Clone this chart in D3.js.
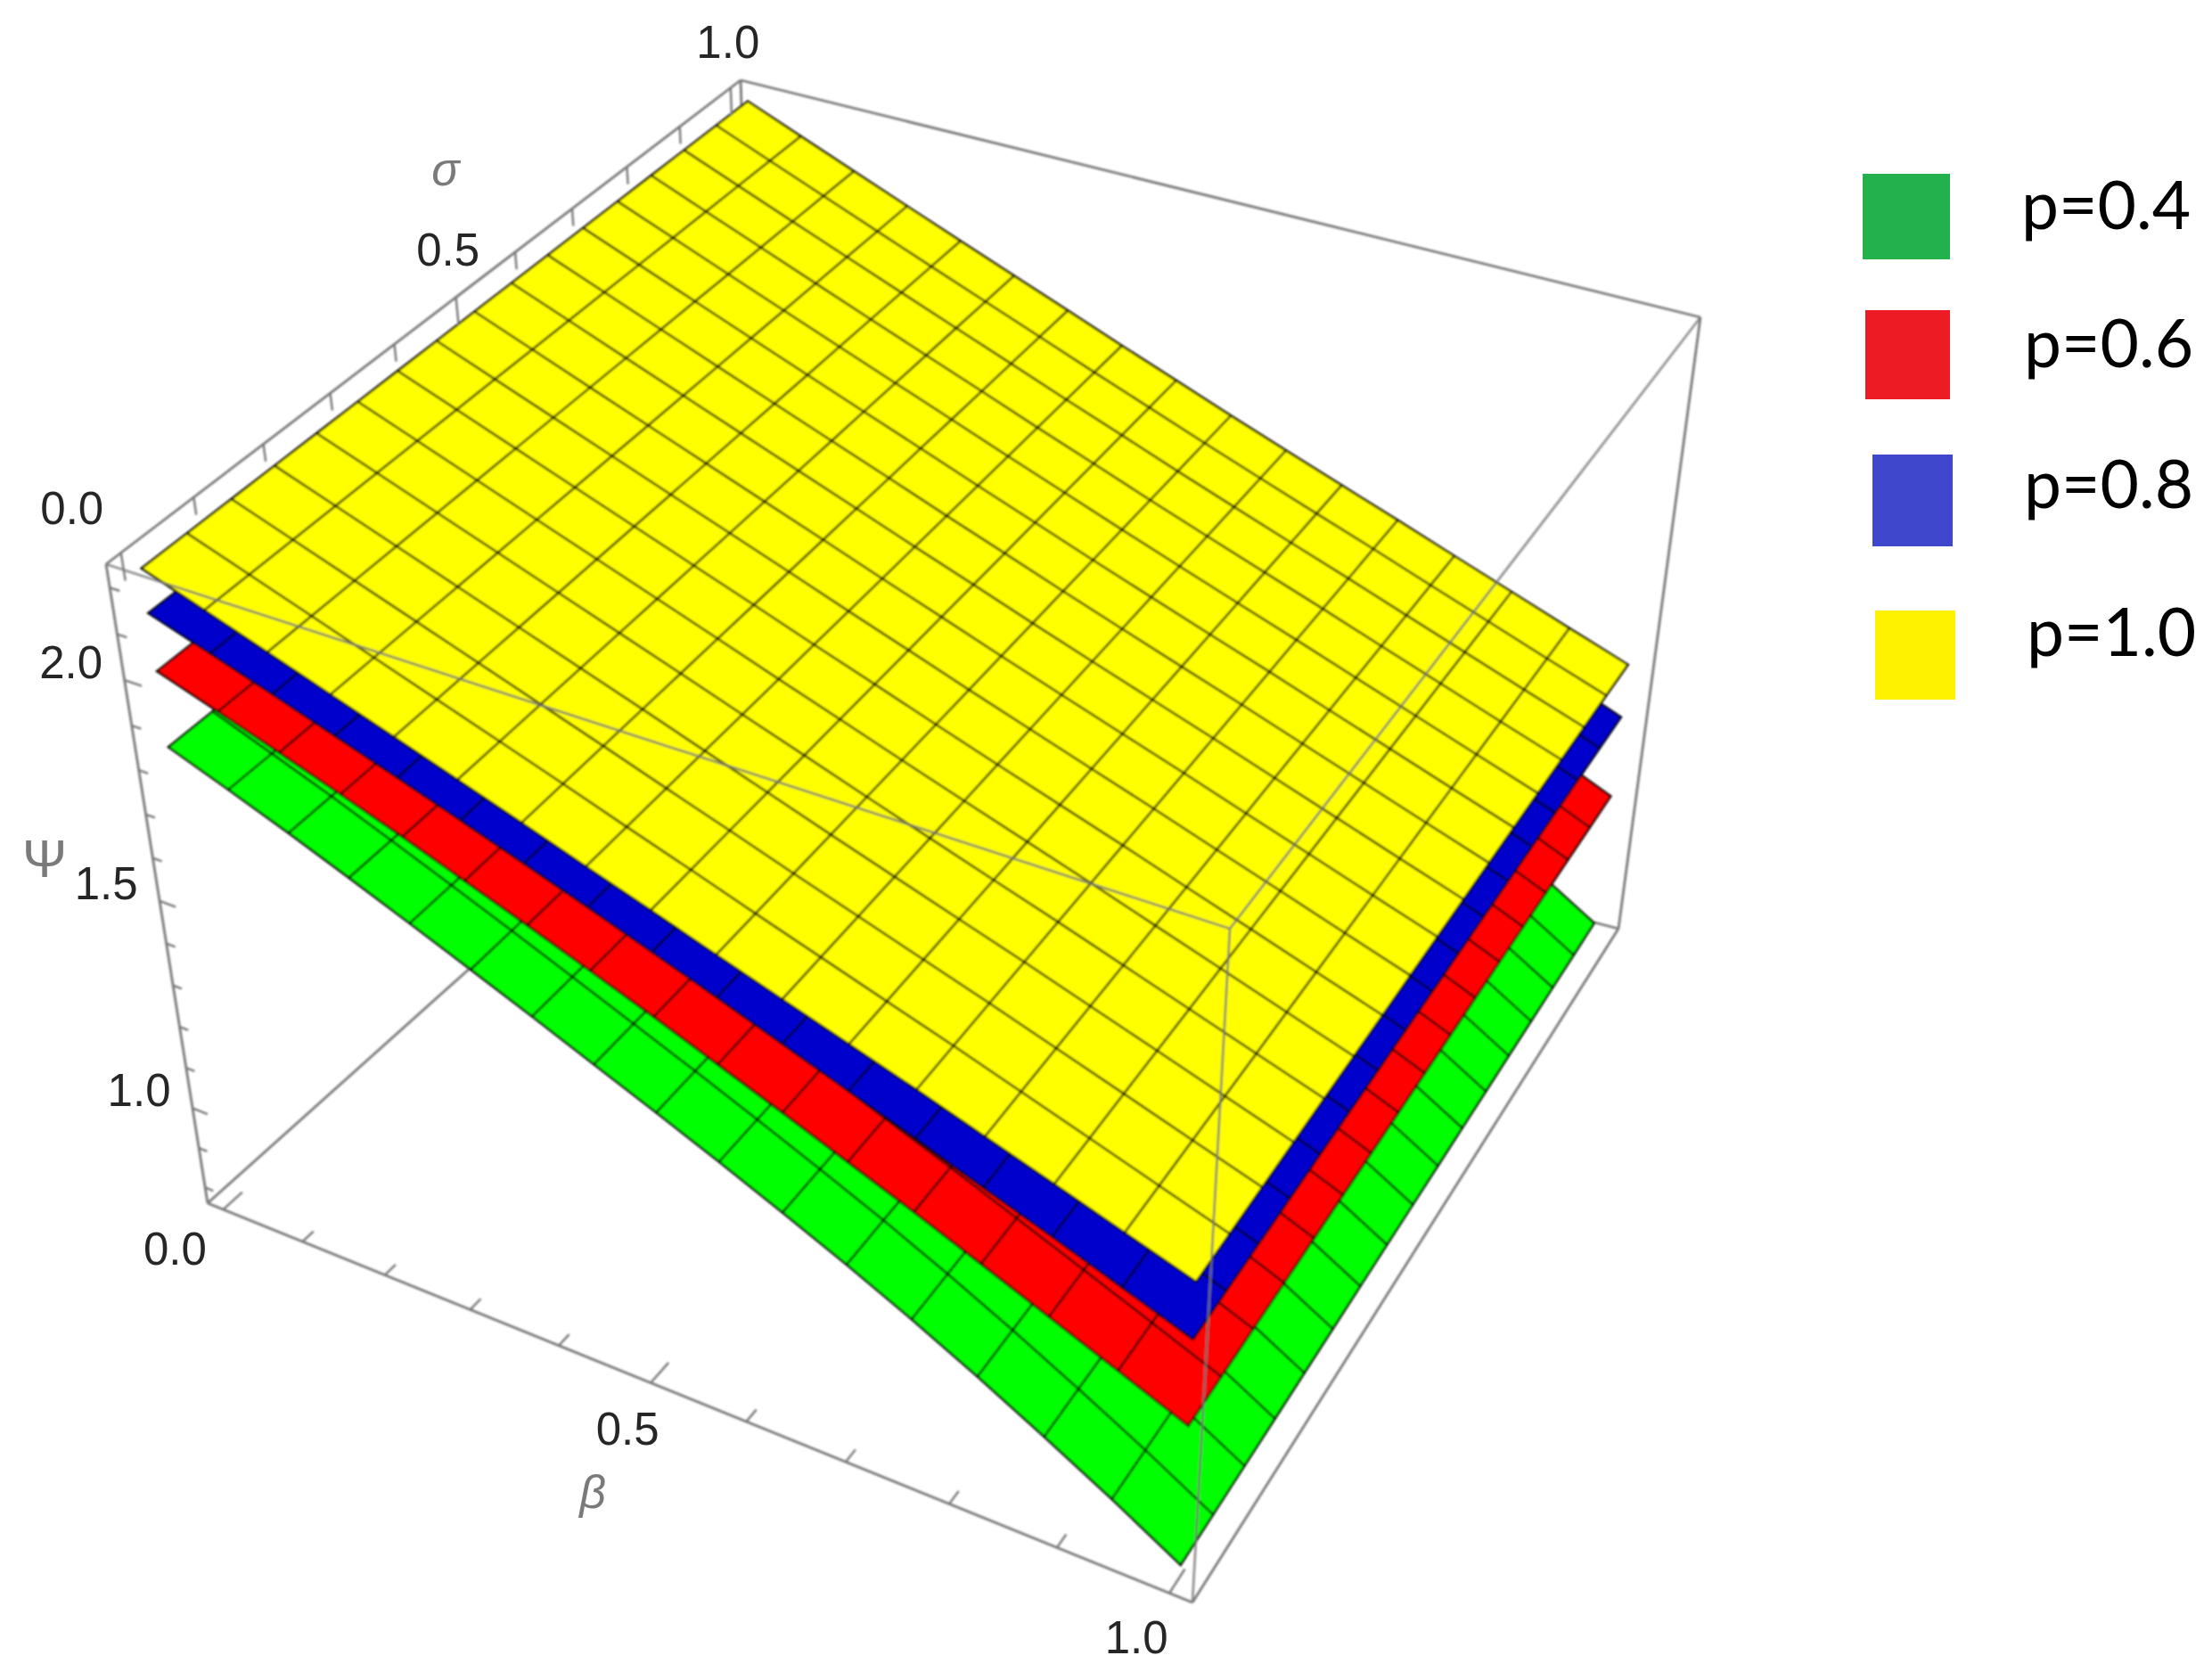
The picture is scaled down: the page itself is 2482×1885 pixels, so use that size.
<!DOCTYPE html>
<html>
<head>
<meta charset="utf-8">
<script src="https://cdnjs.cloudflare.com/ajax/libs/d3/7.8.5/d3.min.js"></script>
<style>
body { margin: 0; background: #fff; }
</style>
</head>
<body>
<script>
var w = 2482;
var h = 1885;

// mesh lines run every 1/16 in both beta and sigma
var betaMesh = [0, 0.0625, 0.125, 0.1875, 0.25, 0.3125, 0.375, 0.4375, 0.5, 0.5625, 0.625, 0.6875, 0.75, 0.8125, 0.875, 0.9375, 1];
var sigmaMesh = [0, 0.0625, 0.125, 0.1875, 0.25, 0.3125, 0.375, 0.4375, 0.5, 0.5625, 0.625, 0.6875, 0.75, 0.8125, 0.875, 0.9375, 1];

// psi at each beta mesh line, the sheets show no change along sigma
var psiGreen = [1.840, 1.788, 1.735, 1.679, 1.622, 1.564, 1.505, 1.445, 1.385, 1.323, 1.259, 1.193, 1.122, 1.046, 0.965, 0.880, 0.788];
var psiRed = [2.008, 1.962, 1.915, 1.867, 1.818, 1.766, 1.714, 1.660, 1.606, 1.549, 1.492, 1.433, 1.374, 1.312, 1.249, 1.185, 1.120];
var psiBlue = [2.134, 2.089, 2.043, 1.996, 1.949, 1.901, 1.852, 1.803, 1.752, 1.701, 1.648, 1.595, 1.542, 1.487, 1.433, 1.377, 1.320];
var psiYellow = [2.230, 2.182, 2.134, 2.086, 2.038, 1.990, 1.942, 1.893, 1.845, 1.796, 1.748, 1.700, 1.652, 1.602, 1.552, 1.501, 1.450];

var surfaces = [
    { name: "p=0.4", psi: psiGreen, fill: "#00ff00" },
    { name: "p=0.6", psi: psiRed, fill: "#ff0000" },
    { name: "p=0.8", psi: psiBlue, fill: "#0000cd" },
    { name: "p=1.0", psi: psiYellow, fill: "#ffff00" }
];

var legendNames = ["p=0.4", "p=0.6", "p=0.8", "p=1.0"];
var legendColors = ["#22b14c", "#ed1c24", "#3f48cc", "#fff200"];

var betaTicks = [0, 0.1, 0.2, 0.3, 0.4, 0.5, 0.6, 0.7, 0.8, 0.9, 1];
var sigmaTicks = [0, 0.1, 0.2, 0.3, 0.4, 0.5, 0.6, 0.7, 0.8, 0.9, 1];
var psiTicks = [0.8, 0.9, 1, 1.1, 1.2, 1.3, 1.4, 1.5, 1.6, 1.7, 1.8, 1.9, 2, 2.1, 2.2];
var betaLabels = [0, 0.5, 1];
var sigmaLabels = [0, 0.5, 1];
var psiLabels = [1, 1.5, 2];

var fmt = d3.format(".1f");

// box padding like the plot's 2% range padding
var betaScale = d3.scaleLinear().domain([-0.02, 1.02]).range([0, 1]);
var sigmaScale = d3.scaleLinear().domain([-0.02, 1.02]).range([0, 1]);
var psiScale = d3.scaleLinear().domain([0.76, 2.25]).range([1, 0]);

// screen corners of the box: [b0s0, b1s0, b1s1, b0s1]
var topFace = [[119, 633], [1380, 1042], [1908, 356], [831, 90]];
var botFace = [[233, 1350], [1338, 1798], [1816, 1042], [856, 792]];
var perspective = 1.1;

var quadMap = q => {
    var dx1 = q[1][0] - q[2][0], dx2 = q[3][0] - q[2][0], sx = q[0][0] - q[1][0] + q[2][0] - q[3][0];
    var dy1 = q[1][1] - q[2][1], dy2 = q[3][1] - q[2][1], sy = q[0][1] - q[1][1] + q[2][1] - q[3][1];
    var det = dx1 * dy2 - dx2 * dy1;
    var g = (sx * dy2 - dx2 * sy) / det;
    var k = (dx1 * sy - sx * dy1) / det;
    return (u, v) => {
        var d = g * u + k * v + 1;
        return [
            (q[0][0] + (q[1][0] - q[0][0] + g * q[1][0]) * u + (q[3][0] - q[0][0] + k * q[3][0]) * v) / d,
            (q[0][1] + (q[1][1] - q[0][1] + g * q[1][1]) * u + (q[3][1] - q[0][1] + k * q[3][1]) * v) / d
        ];
    };
};

var topMap = quadMap(topFace);
var botMap = quadMap(botFace);

// u, v, z all in box units
var projectUnit = (u, v, z) => {
    var a = topMap(u, v);
    var b = botMap(u, v);
    var t = z * perspective / (1 + z * (perspective - 1));
    return [a[0] + (b[0] - a[0]) * t, a[1] + (b[1] - a[1]) * t];
};

var project = (beta, sigma, psi) => projectUnit(betaScale(beta), sigmaScale(sigma), psiScale(psi));

var svg = d3.select("body")
    .append("svg")
    .attr("width", w)
    .attr("height", h);

svg.append("rect").attr("width", w).attr("height", h).attr("fill", "#fff");

var defs = svg.append("defs");
defs.append("filter").attr("id", "soft")
    .append("feGaussianBlur").attr("stdDeviation", 0.8);

var line = d3.line();
var chart = svg.append("g").attr("filter", "url(#soft)");

var boxEdge = (g, a, b) => g.append("path")
    .attr("d", line([projectUnit(a[0], a[1], a[2]), projectUnit(b[0], b[1], b[2])]))
    .attr("fill", "none")
    .attr("stroke", "#787878")
    .attr("stroke-width", 2.8);

// hidden box edges first, surfaces paint over them
boxEdge(chart, [1, 1, 1], [0, 1, 1]);
boxEdge(chart, [0, 0, 1], [0, 1, 1]);
boxEdge(chart, [0, 1, 0], [0, 1, 1]);
boxEdge(chart, [0, 0, 1], [1, 0, 1]);
boxEdge(chart, [1, 0, 1], [1, 1, 1]);
boxEdge(chart, [1, 1, 0], [1, 1, 1]);
boxEdge(chart, [0, 0, 0], [0, 0, 1]);
boxEdge(chart, [0, 0, 0], [0, 1, 0]);
boxEdge(chart, [0, 1, 0], [1, 1, 0]);

surfaces.forEach(s => {
    var node = (i, j) => project(betaMesh[i], sigmaMesh[j], s.psi[i]);
    var g = chart.append("g");

    // whole sheet as one outline, then the mesh on top
    var outline = []
        .concat(betaMesh.map((b, i) => node(i, 0)))
        .concat(sigmaMesh.map((v, j) => node(betaMesh.length - 1, j)))
        .concat(betaMesh.map((b, i) => node(betaMesh.length - 1 - i, sigmaMesh.length - 1)))
        .concat(sigmaMesh.map((v, j) => node(0, sigmaMesh.length - 1 - j)));

    g.append("path")
        .attr("d", line(outline) + "Z")
        .attr("fill", s.fill)
        .attr("stroke", "none");

    betaMesh.forEach((b, i) => {
        if (i == 0 || i == betaMesh.length - 1) return;
        g.append("path")
            .attr("d", line(sigmaMesh.map((v, j) => node(i, j))))
            .attr("fill", "none")
            .attr("stroke", "#000")
            .attr("stroke-opacity", 0.64)
            .attr("stroke-width", 2.8);
    });
    sigmaMesh.forEach((v, j) => {
        if (j == 0 || j == sigmaMesh.length - 1) return;
        g.append("path")
            .attr("d", line(betaMesh.map((b, i) => node(i, j))))
            .attr("fill", "none")
            .attr("stroke", "#000")
            .attr("stroke-opacity", 0.64)
            .attr("stroke-width", 2.8);
    });

    g.append("path")
        .attr("d", line(outline) + "Z")
        .attr("fill", "none")
        .attr("stroke", "#000")
        .attr("stroke-opacity", 0.92)
        .attr("stroke-width", 2.6);
});

// box edges in front of the surfaces
var front = chart.append("g").attr("opacity", 0.8);
boxEdge(front, [0, 0, 0], [1, 0, 0]);
boxEdge(front, [1, 0, 0], [1, 0, 1]);
boxEdge(front, [1, 0, 0], [1, 1, 0]);

// ticks, pointing into the box along one of its own directions
var tickMark = (a, b) => chart.append("path")
    .attr("d", line([a, b]))
    .attr("fill", "none")
    .attr("stroke", "#787878")
    .attr("stroke-width", 2.4);

betaTicks.forEach(d => {
    var major = betaLabels.includes(d);
    var u = betaScale(d);
    tickMark(projectUnit(u, 0, 1), projectUnit(u, major ? 0.028 : 0.016, 1));
});
sigmaTicks.forEach(d => {
    var major = sigmaLabels.includes(d);
    var v = sigmaScale(d);
    tickMark(projectUnit(0, v, 0), projectUnit(0, v, major ? 0.04 : 0.025));
});
psiTicks.forEach(d => {
    var major = psiLabels.includes(d);
    var z = psiScale(d);
    tickMark(projectUnit(0, 0, z), projectUnit(major ? 0.018 : 0.01, 0, z));
});

var label = (x, y, txt) => svg.append("text")
    .attr("x", x)
    .attr("y", y)
    .attr("text-anchor", "middle")
    .attr("font-family", "Liberation Sans")
    .attr("font-size", 51)
    .attr("fill", "#262626")
    .text(txt);

// label offsets from their tick, one per label
var betaOffset = [[-54, 62], [-26, 69], [-37, 67]];
var sigmaOffset = [[-55, -32], [-9, -36], [-3, -34]];
var psiOffset = [[-60, -2], [-60, -2], [-60, -2]];

betaLabels.forEach((d, i) => {
    var p = projectUnit(betaScale(d), 0, 1);
    label(p[0] + betaOffset[i][0], p[1] + betaOffset[i][1], fmt(d));
});
sigmaLabels.forEach((d, i) => {
    var p = projectUnit(0, sigmaScale(d), 0);
    label(p[0] + sigmaOffset[i][0], p[1] + sigmaOffset[i][1], fmt(d));
});
psiLabels.forEach((d, i) => {
    var p = projectUnit(0, 0, psiScale(d));
    label(p[0] + psiOffset[i][0], p[1] + psiOffset[i][1], fmt(d));
});

var axisTitle = (x, y, txt, style, size) => svg.append("text")
    .attr("x", x)
    .attr("y", y)
    .attr("text-anchor", "middle")
    .attr("font-family", "Liberation Sans")
    .attr("font-style", style)
    .attr("font-size", size)
    .attr("fill", "#7a7a7a")
    .text(txt);

axisTitle(665, 1692, "\u03b2", "italic", 52);
axisTitle(500, 208, "\u03c3", "italic", 52);
axisTitle(50, 984, "\u03a8", "normal", 60);

// legend was pasted on by hand, so the boxes do not line up exactly
var legendBoxX = [2090, 2093, 2101, 2104];
var legendBoxY = [195, 348, 510, 685];
var legendBoxW = [98, 95, 90, 90];
var legendBoxH = [96, 100, 103, 100];
var legendTextX = [2268, 2271, 2271, 2274];
var legendTextY = [257, 412, 570, 736];

var legend = svg.append("g");
legend.selectAll("rect")
    .data(legendNames)
    .enter()
    .append("rect")
    .attr("x", (d, i) => legendBoxX[i])
    .attr("y", (d, i) => legendBoxY[i])
    .attr("width", (d, i) => legendBoxW[i])
    .attr("height", (d, i) => legendBoxH[i])
    .attr("fill", (d, i) => legendColors[i]);
legend.selectAll("text")
    .data(legendNames)
    .enter()
    .append("text")
    .attr("x", (d, i) => legendTextX[i])
    .attr("y", (d, i) => legendTextY[i])
    .attr("font-family", "Lato")
    .attr("font-size", 75)
    .attr("fill", "#000")
    .text(d => d);
</script>
</body>
</html>
